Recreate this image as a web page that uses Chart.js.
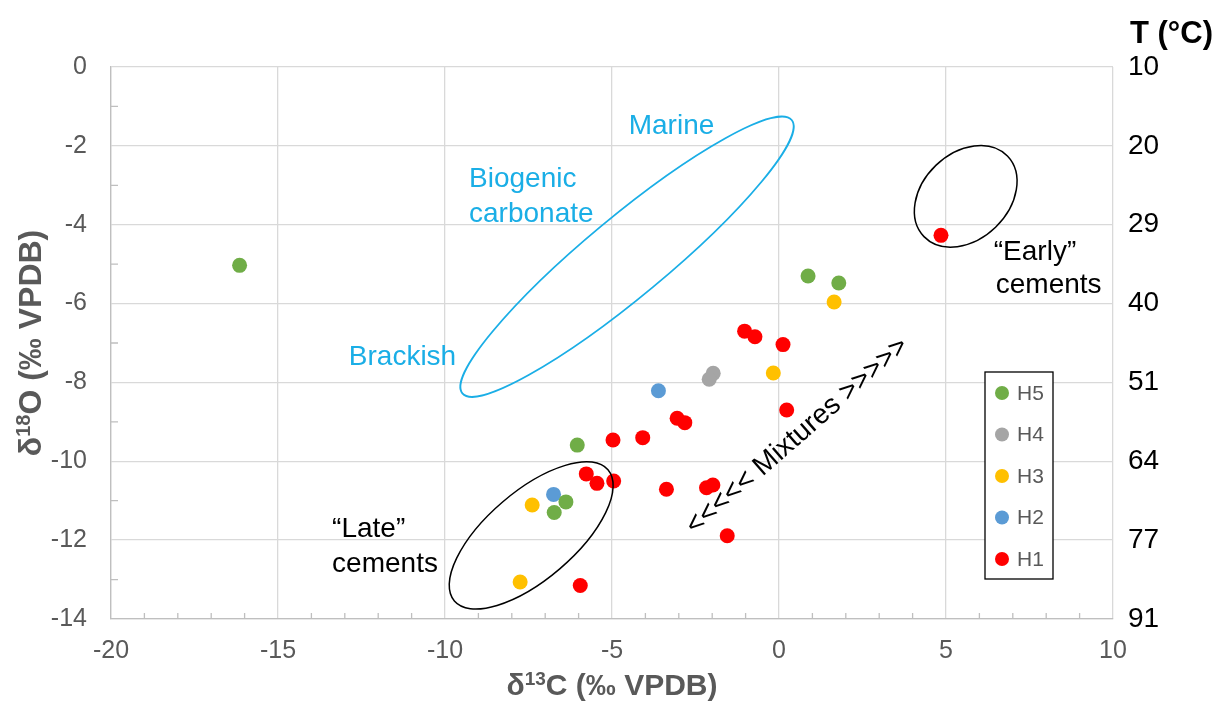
<!DOCTYPE html>
<html>
<head>
<meta charset="utf-8">
<script src="https://cdn.jsdelivr.net/npm/chart.js@4.4.1/dist/chart.umd.min.js"></script>
<style>
  html, body { margin: 0; padding: 0; background: #fff; }
</style>
</head>
<body>
<canvas id="chart" width="1219" height="706"></canvas>
<script>
// d13C / d18O values (permil VPDB), one pair of arrays per horizon
const h5_x = [-16.15, 0.87, 1.79, -6.04, -6.38, -6.73];
const h5_y = [-5.03, -5.30, -5.48, -9.59, -11.03, -11.30];

const h4_x = [-1.97, -2.09];
const h4_y = [-7.77, -7.92];

const h3_x = [1.65, -0.17, -7.39, -7.75];
const h3_y = [-5.96, -7.76, -11.11, -13.06];

const h2_x = [-3.61, -6.75];
const h2_y = [-8.21, -10.84];

const h1_x = [4.85, -1.03, -0.72, 0.12, 0.23, -3.05, -2.82, -4.08, -4.97, -5.77, -5.45, -4.95, -3.37, -2.17, -1.98, -1.55, -5.95];
const h1_y = [-4.27, -6.70, -6.84, -7.04, -8.70, -8.91, -9.02, -9.40, -9.46, -10.32, -10.56, -10.50, -10.71, -10.67, -10.60, -11.89, -13.15];

// right axis: temperature for each d18O tick
const d18o_ticks = [0, -2, -4, -6, -8, -10, -12, -14];
const temp_labels = ["10", "20", "29", "40", "51", "64", "77", "91"];

const FONT = "'Liberation Sans', Arial, sans-serif";
const BLUE = "#1AAEE6";

// ellipses: centre in data units, semi axes in px, rotation in degrees
const ellipses = [
  { cx: -4.55, cy: -4.81, rx: 214, ry: 40, rot: -39.7, color: BLUE, lw: 1.8 },
  { cx: -7.42, cy: -11.88, rx: 101, ry: 44, rot: -40.5, color: "#000", lw: 1.5 },
  { cx: 5.59, cy: -3.28, rx: 58, ry: 43, rot: -44, color: "#000", lw: 1.5 },
];

// text notes, anchored in data units
const notes = [
  { text: "Marine", x: -4.50, y: -1.69, color: BLUE },
  { text: "Biogenic", x: -9.28, y: -3.04, color: BLUE },
  { text: "carbonate", x: -9.28, y: -3.93, color: BLUE },
  { text: "Brackish", x: -12.88, y: -7.56, color: BLUE },
  { text: "\u201CLate\u201D", x: -13.38, y: -11.91, color: "#000" },
  { text: "cements", x: -13.38, y: -12.80, color: "#000" },
  { text: "\u201CEarly\u201D", x: 6.43, y: -4.90, color: "#000" },
  { text: "cements", x: 6.49, y: -5.74, color: "#000" },
  { text: "<<<<< Mixtures >>>>>", x: 0.55, y: -9.36, color: "#000", rot: -41.1, center: true },
];

const pts = (xs, ys) => xs.map((x, i) => ({ x: x, y: ys[i] }));

const series = [
  { label: "H5", data: pts(h5_x, h5_y), color: "#70AD47" },
  { label: "H4", data: pts(h4_x, h4_y), color: "#A5A5A5" },
  { label: "H3", data: pts(h3_x, h3_y), color: "#FFC000" },
  { label: "H2", data: pts(h2_x, h2_y), color: "#5B9BD5" },
  { label: "H1", data: pts(h1_x, h1_y), color: "#FF0000" },
];

function drawParts(ctx, parts, size, supSize, rise) {
  // parts: [text, isSup]; draws centred on origin, baseline at 0
  let total = 0;
  const widths = parts.map(([t, sup]) => {
    ctx.font = "bold " + (sup ? supSize : size) + "px " + FONT;
    const w = ctx.measureText(t).width;
    total += w;
    return w;
  });
  let x = -total / 2;
  parts.forEach(([t, sup], i) => {
    ctx.font = "bold " + (sup ? supSize : size) + "px " + FONT;
    ctx.fillText(t, x, sup ? -rise : 0);
    x += widths[i];
  });
}

const extras = {
  id: "extras",
  beforeDatasetsDraw(chart) {
    const { ctx, chartArea: a, scales: { x, y } } = chart;
    ctx.save();
    ctx.strokeStyle = "#BFBFBF";
    ctx.lineWidth = 1.3;
    ctx.beginPath();
    for (let v = -19; v < 10; v++) {
      if (v % 5 === 0) continue;
      const px = x.getPixelForValue(v);
      ctx.moveTo(px, a.bottom);
      ctx.lineTo(px, a.bottom - 6);
    }
    for (let v = -13; v < 0; v += 2) {
      const py = y.getPixelForValue(v);
      ctx.moveTo(a.left, py);
      ctx.lineTo(a.left + 7, py);
    }
    ctx.stroke();
    ctx.restore();
  },
  afterDatasetsDraw(chart) {
    const { ctx, chartArea: a, scales: { x, y } } = chart;
    ctx.save();

    ellipses.forEach(e => {
      ctx.beginPath();
      ctx.strokeStyle = e.color;
      ctx.lineWidth = e.lw;
      ctx.ellipse(x.getPixelForValue(e.cx), y.getPixelForValue(e.cy), e.rx, e.ry, e.rot * Math.PI / 180, 0, Math.PI * 2);
      ctx.stroke();
    });

    ctx.font = "28px " + FONT;
    notes.forEach(n => {
      ctx.fillStyle = n.color;
      ctx.save();
      ctx.translate(x.getPixelForValue(n.x), y.getPixelForValue(n.y));
      if (n.rot) ctx.rotate(n.rot * Math.PI / 180);
      ctx.textAlign = n.center ? "center" : "left";
      ctx.textBaseline = n.center ? "middle" : "alphabetic";
      ctx.fillText(n.text, 0, 0);
      ctx.restore();
    });

    // legend box
    const lx = a.right - 128, ly = a.top + 305, lw = 68, lh = 207;
    ctx.fillStyle = "#fff";
    ctx.fillRect(lx, ly, lw, lh);
    ctx.strokeStyle = "#000";
    ctx.lineWidth = 1.3;
    ctx.strokeRect(lx, ly, lw, lh);
    ctx.font = "21px " + FONT;
    ctx.textAlign = "left";
    ctx.textBaseline = "middle";
    chart.data.datasets.forEach((ds, i) => {
      const cy = ly + 21 + i * 41.5;
      ctx.fillStyle = ds.backgroundColor;
      ctx.beginPath();
      ctx.arc(lx + 17, cy, 7, 0, Math.PI * 2);
      ctx.fill();
      ctx.fillStyle = "#595959";
      ctx.fillText(ds.label, lx + 32, cy + 1);
    });
    ctx.restore();
  },
  afterDraw(chart) {
    const { ctx, chartArea: a } = chart;
    ctx.save();
    ctx.fillStyle = "#595959";
    ctx.textAlign = "left";
    ctx.textBaseline = "alphabetic";
    // bottom axis title
    ctx.save();
    ctx.translate((a.left + a.right) / 2, 695);
    drawParts(ctx, [["\u03B4", false], ["13", true], ["C (\u2030 VPDB)", false]], 30, 19, 10);
    ctx.restore();
    // left axis title
    ctx.save();
    ctx.translate(41, (a.top + a.bottom) / 2);
    ctx.rotate(-Math.PI / 2);
    drawParts(ctx, [["\u03B4", false], ["18", true], ["O (\u2030 VPDB)", false]], 32, 20, 11);
    ctx.restore();
    // right axis heading
    ctx.fillStyle = "#000";
    ctx.font = "bold 31px " + FONT;
    ctx.fillText("T (\u00B0C)", a.right + 17, 43);
    ctx.restore();
  },
};

new Chart(document.getElementById("chart"), {
  type: "scatter",
  data: {
    datasets: series.map(s => ({
      label: s.label,
      data: s.data,
      backgroundColor: s.color,
      borderColor: s.color,
      pointRadius: 7.5,
      pointBorderWidth: 0,
    })),
  },
  options: {
    responsive: false,
    animation: false,
    layout: { padding: { top: 67, left: 0, right: 0, bottom: 0 } },
    plugins: {
      legend: { display: false },
      tooltip: { enabled: false },
    },
    scales: {
      x: {
        type: "linear",
        position: "bottom",
        min: -20,
        max: 10,
        afterFit: s => { s.height = 87; },
        ticks: { stepSize: 5, padding: 17, color: "#595959", font: { family: FONT, size: 25 } },
        grid: { color: "#D9D9D9", lineWidth: 1.3, drawTicks: false },
        border: { color: "#BFBFBF", width: 1.3 },
      },
      y: {
        type: "linear",
        position: "left",
        min: -14,
        max: 0,
        afterFit: s => { s.width = 111; },
        ticks: { stepSize: 2, padding: 24, color: "#595959", font: { family: FONT, size: 25 } },
        grid: { color: "#D9D9D9", lineWidth: 1.3, drawTicks: false },
        border: { color: "#BFBFBF", width: 1.3 },
      },
      y2: {
        type: "linear",
        position: "right",
        min: -14,
        max: 0,
        afterFit: s => { s.width = 106; },
        afterBuildTicks: s => { s.ticks = d18o_ticks.map(v => ({ value: v })); },
        ticks: {
          padding: 15,
          color: "#000",
          font: { family: FONT, size: 28 },
          callback: v => temp_labels[d18o_ticks.indexOf(v)],
        },
        grid: { display: false, drawTicks: false },
        border: { display: false },
      },
    },
  },
  plugins: [extras],
});
</script>
</body>
</html>
